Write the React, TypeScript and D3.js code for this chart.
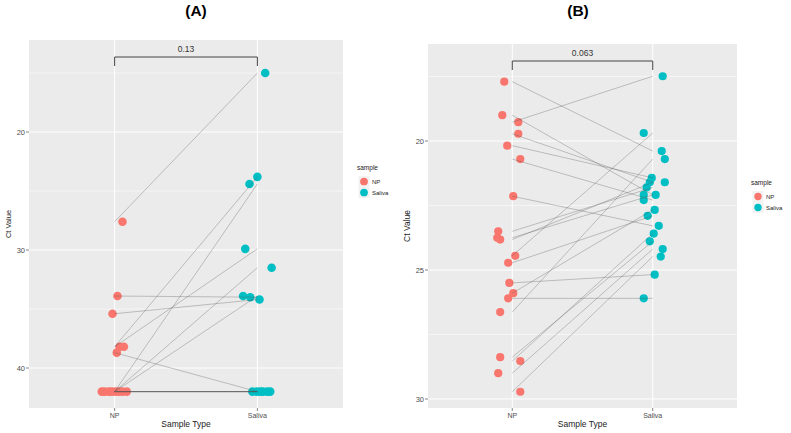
import React from 'react';
import * as d3 from 'd3';

const categories = ['NP', 'Saliva'];

// Panel A (paired: npA[i] <-> salA[i]); jitter in category units
const npA = [27.6, 33.9, 35.4, 38.2, 38.2, 38.7, 42, 42, 42, 42, 42, 42, 42, 42];
const npJitA = [0.055, 0.02, -0.015, 0.035, 0.065, 0.015, -0.09, -0.07, -0.04, -0.02, 0.005, 0.03, 0.055, 0.085];
const salA = [15.0, 34.0, 34.2, 23.8, 29.9, 42, 24.4, 31.5, 33.9, 42, 42, 42, 42, 42];
const salJitA = [0.055, -0.05, 0.015, 0, -0.085, -0.035, -0.055, 0.1, -0.1, -0.005, 0.02, 0.04, 0.07, 0.09];
const yTicksA = [20, 30, 40];
const yMinorA = [15, 25, 35];
const pA = '0.13';

// Panel B
const npB = [17.7, 19.0, 19.27, 19.72, 20.18, 20.7, 22.14, 23.5, 23.75, 23.82, 24.45, 24.72, 25.5, 25.9, 26.1, 26.63, 28.38, 28.53, 29.0, 29.72];
const npJitB = [-0.057, -0.071, 0.043, 0.043, -0.036, 0.057, 0.007, -0.1, -0.107, -0.086, 0.021, -0.029, -0.021, 0.007, -0.029, -0.086, -0.086, 0.057, -0.1, 0.057];
const salB = [20.39, 22.09, 17.49, 21.6, 21.43, 22.29, 23.29, 21.8, 22.09, 21.6, 19.69, 22.9, 25.18, 22.67, 26.1, 20.7, 23.89, 23.59, 24.19, 24.48];
const salJitB = [0.064, -0.064, 0.071, -0.021, -0.007, -0.064, 0.043, -0.043, 0.021, 0.086, -0.064, -0.036, 0.014, 0.014, -0.064, 0.086, -0.021, 0.007, 0.071, 0.057];
const yTicksB = [20, 25, 30];
const yMinorB = [17.5, 22.5, 27.5];
const pB = '0.063';

const COLORS = { NP: '#F8766D', Saliva: '#00BFC4' };
const FONT = '"Liberation Sans", Arial, sans-serif';

interface PanelProps {
  title: string; titleX: number;
  x0: number; x1: number; y0: number; y1: number;
  yDomain: [number, number];
  np: number[]; npJ: number[]; sal: number[]; salJ: number[];
  ticks: number[]; minor: number[]; pval: string;
  r: number; legendX: number; legendY: number;
  yTitleSize: number;
}

function Panel(props: PanelProps) {
  const { title, titleX, x0, x1, y0, y1, yDomain, np, npJ, sal, salJ, ticks, minor, pval, r, legendX, legendY, yTitleSize } = props;
  const x = d3.scalePoint<string>().domain(categories).range([x0, x1]).padding(0.6);
  const step = x.step();
  const y = d3.scaleLinear().domain(yDomain).range([y0, y1]);
  const xNP = x('NP')!;
  const xSal = x('Saliva')!;
  const cx = (xNP + xSal) / 2;
  const by = y0 + 17;
  return (
    <g fontFamily={FONT}>
      <text x={titleX} y={16} textAnchor="middle" fontSize={15.5} fontWeight="bold" fill="#000">{title}</text>
      <rect x={x0} y={y0} width={x1 - x0} height={y1 - y0} fill="#EBEBEB" />
      {minor.map((t) => (
        <line key={'m' + t} x1={x0} x2={x1} y1={y(t)} y2={y(t)} stroke="#fff" strokeWidth={0.5} />
      ))}
      {ticks.map((t) => (
        <line key={'t' + t} x1={x0} x2={x1} y1={y(t)} y2={y(t)} stroke="#fff" strokeWidth={1} />
      ))}
      {categories.map((c) => (
        <line key={c} x1={x(c)!} x2={x(c)!} y1={y0} y2={y1} stroke="#fff" strokeWidth={1} />
      ))}
      {np.map((v, i) => (
        <circle key={'n' + i} cx={xNP + npJ[i] * step} cy={y(v)} r={r} fill={COLORS.NP} />
      ))}
      {sal.map((v, i) => (
        <circle key={'s' + i} cx={xSal + salJ[i] * step} cy={y(v)} r={r} fill={COLORS.Saliva} />
      ))}
      {np.map((v, i) => (
        <line key={'l' + i} x1={xNP} y1={y(v)} x2={xSal} y2={y(sal[i])} stroke="#555" strokeOpacity={0.55} strokeWidth={0.6} />
      ))}
      <path d={`M${xNP},${by + 9}V${by}H${xSal}V${by + 9}`} fill="none" stroke="#444" strokeWidth={1} />
      <text x={cx} y={by - 5} textAnchor="middle" fontSize={8.5} fill="#333">{pval}</text>
      {ticks.map((t) => (
        <g key={'yt' + t}>
          <line x1={x0 - 3} x2={x0} y1={y(t)} y2={y(t)} stroke="#333" strokeWidth={0.6} />
          <text x={x0 - 4} y={y(t)} dy="0.35em" textAnchor="end" fontSize={7.5} fill="#4D4D4D">{t}</text>
        </g>
      ))}
      <text transform={`translate(${x0 - 18},${(y0 + y1) / 2}) rotate(-90)`} textAnchor="middle" fontSize={yTitleSize} fill="#222">Ct Value</text>
      {categories.map((c) => (
        <g key={'xt' + c}>
          <line x1={x(c)!} x2={x(c)!} y1={y1} y2={y1 + 3} stroke="#333" strokeWidth={0.6} />
          <text x={x(c)!} y={y1 + 10} textAnchor="middle" fontSize={7} fill="#4D4D4D">{c}</text>
        </g>
      ))}
      <text x={cx} y={y1 + 19} textAnchor="middle" fontSize={8.5} fill="#222">Sample Type</text>
      <text x={legendX - 7} y={legendY} fontSize={6.5} fill="#222">sample</text>
      {categories.map((c, i) => (
        <g key={'lg' + c}>
          <rect x={legendX - 5.5} y={legendY + 6 + i * 11} width={11} height={11} fill="#F2F2F2" />
          <circle cx={legendX} cy={legendY + 11.5 + i * 11} r={r * 0.9} fill={COLORS[c as 'NP' | 'Saliva']} />
          <text x={legendX + 8} y={legendY + 11.5 + i * 11} dy="0.35em" fontSize={6} fill="#222">{c}</text>
        </g>
      ))}
    </g>
  );
}

export default function App() {
  return (
    <svg width={791} height={433} style={{ position: 'absolute', left: 0, top: 0, background: '#fff' }}>
      <rect width={791} height={433} fill="#fff" />
      <Panel title="(A)" titleX={196} x0={29} x1={343} y0={40} y1={408} yDomain={[12.2, 43.39]}
        np={npA} npJ={npJitA} sal={salA} salJ={salJitA} ticks={yTicksA} minor={yMinorA}
        pval={pA} r={4.3} legendX={364} legendY={170} yTitleSize={7.5} />
      <Panel title="(B)" titleX={578} x0={428} x1={737} y0={44} y1={408} yDomain={[16.24, 30.35]}
        np={npB} npJ={npJitB} sal={salB} salJ={salJitB} ticks={yTicksB} minor={yMinorB}
        pval={pB} r={4.1} legendX={758} legendY={185} yTitleSize={8.5} />
    </svg>
  );
}
